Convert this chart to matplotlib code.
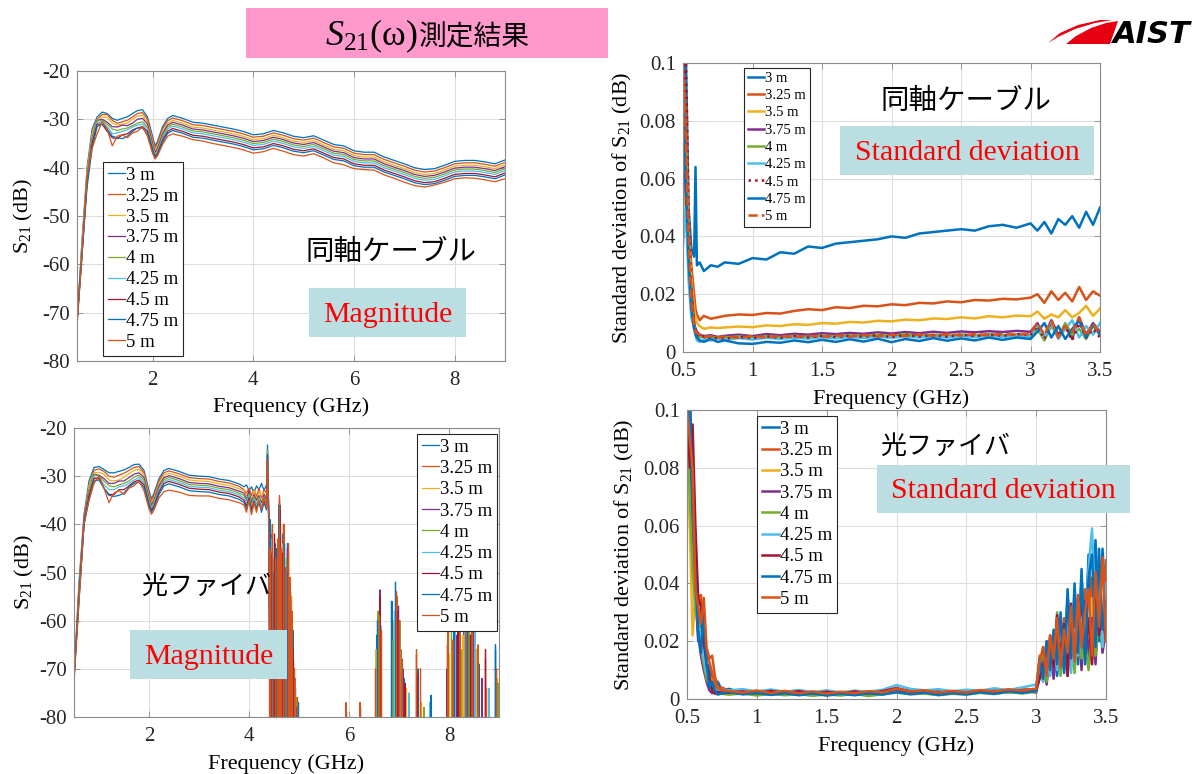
import numpy as np
import matplotlib
matplotlib.use('Agg')
import matplotlib.pyplot as plt
from matplotlib.patches import Rectangle, Polygon

plt.rcParams['font.family'] = ['Liberation Serif', 'Noto Sans CJK JP']
plt.rcParams['mathtext.fontset'] = 'custom'
plt.rcParams['mathtext.rm'] = 'Liberation Serif'
plt.rcParams['mathtext.it'] = 'Liberation Serif:italic'
plt.rcParams['axes.unicode_minus'] = False

W, H = 1198, 774

cable_lengths = ['3 m', '3.25 m', '3.5 m', '3.75 m', '4 m', '4.25 m', '4.5 m', '4.75 m', '5 m']
matlab_colors = ['#0072BD', '#D95319', '#EDB120', '#7E2F8E', '#77AC30',
                 '#4DBEEE', '#A2142F', '#0072BD', '#D95319']

# ---------------- coax cable, magnitude (dB) ----------------
coax_freq = [0.5, 0.6, 0.7, 0.8, 0.9, 1.0, 1.1, 1.2, 1.3, 1.4, 1.5, 1.6, 1.7, 1.8, 1.9,
             2.0, 2.05, 2.1, 2.2, 2.3, 2.4,
             2.6, 2.8, 3.0, 3.2, 3.4, 3.6, 3.8, 4.0, 4.2, 4.4, 4.6, 4.8, 5.0, 5.2, 5.4, 5.6,
             5.8, 6.0, 6.2, 6.4, 6.6, 6.8, 7.0, 7.2, 7.4, 7.6, 7.8, 8.0, 8.2, 8.4, 8.6, 8.8, 9.0]
coax_mag_300 = [-72, -55, -40, -32, -29.5, -28.5, -28.8, -29.8, -30.2, -29.8, -29.5, -28.8, -28.2, -28.0, -29.5,
                -33.5, -35.5, -34.5, -31.5, -29.8, -29.2,
                -29.8, -30.6, -30.8, -31.2, -31.6, -32.0, -32.5, -33.2, -33.0, -32.3, -32.8, -33.5, -33.8, -33.4, -34.3, -35.2,
                -35.5, -36.5, -36.8, -36.8, -37.8, -38.5, -39.2, -40.0, -40.4, -40.2, -39.5, -38.7, -38.5, -38.5, -38.8, -39.2, -38.4]
coax_mag_325 = [-72, -56, -41, -33, -30, -29.0, -29.0, -30.2, -30.8, -30.5, -30.2, -29.5, -28.8, -28.6, -30.0,
                -34.0, -36.0, -35.0, -32.0, -30.3, -29.7,
                -30.3, -31.1, -31.3, -31.7, -32.1, -32.5, -33.0, -33.7, -33.5, -32.8, -33.3, -34.0, -34.3, -33.9, -34.8, -35.7,
                -36.0, -37.0, -37.3, -37.3, -38.3, -39.0, -39.7, -40.5, -40.9, -40.7, -40.0, -39.2, -39.0, -39.0, -39.3, -39.7, -38.9]
coax_mag_350 = [-72, -56, -41, -33, -30, -29.5, -29.6, -30.8, -31.2, -31.0, -30.8, -30.0, -29.3, -29.2, -30.6,
                -34.5, -36.4, -35.5, -32.5, -30.8, -30.2,
                -30.8, -31.6, -31.8, -32.2, -32.6, -33.0, -33.5, -34.2, -34.0, -33.3, -33.8, -34.5, -34.8, -34.4, -35.3, -36.2,
                -36.5, -37.5, -37.8, -37.8, -38.8, -39.5, -40.2, -41.0, -41.4, -41.2, -40.5, -39.7, -39.5, -39.5, -39.8, -40.2, -39.4]
coax_mag_375 = [-72, -57, -42, -34, -30.2, -30.0, -30.6, -31.5, -31.6, -31.2, -31.3, -30.8, -30.0, -29.8, -31.0,
                -35.0, -36.8, -36.0, -33.0, -31.2, -30.6,
                -31.2, -32.0, -32.2, -32.6, -33.0, -33.4, -33.9, -34.6, -34.4, -33.7, -34.2, -34.9, -35.2, -34.8, -35.7, -36.6,
                -36.9, -37.9, -38.2, -38.2, -39.2, -39.9, -40.6, -41.4, -41.8, -41.6, -40.9, -40.1, -39.9, -39.9, -40.2, -40.6, -39.8]
coax_mag_400 = [-72, -57, -42, -34, -30.3, -30.3, -31.0, -32.0, -32.3, -32.0, -31.8, -31.3, -30.8, -30.5, -31.6,
                -35.5, -37.2, -36.4, -33.5, -31.6, -31.0,
                -31.6, -32.4, -32.6, -33.0, -33.4, -33.8, -34.3, -35.0, -34.8, -34.1, -34.6, -35.3, -35.6, -35.2, -36.1, -37.0,
                -37.3, -38.3, -38.6, -38.6, -39.6, -40.3, -41.0, -41.8, -42.2, -42.0, -41.3, -40.5, -40.3, -40.3, -40.6, -41.0, -40.2]
coax_mag_425 = [-72, -57, -43, -35, -30.8, -30.5, -31.5, -33.0, -32.8, -32.5, -32.2, -31.6, -31.2, -31.0, -32.0,
                -35.8, -37.5, -36.8, -33.9, -32.0, -31.4,
                -32.0, -32.8, -33.0, -33.4, -33.8, -34.2, -34.7, -35.4, -35.2, -34.5, -35.0, -35.7, -36.0, -35.6, -36.5, -37.4,
                -37.7, -38.7, -39.0, -39.0, -40.0, -40.7, -41.4, -42.2, -42.6, -42.4, -41.7, -40.9, -40.7, -40.7, -41.0, -41.4, -40.6]
coax_mag_450 = [-72, -58, -43, -35, -31.0, -31.0, -32.5, -33.8, -34.0, -33.2, -33.0, -32.2, -31.8, -31.5, -32.5,
                -36.2, -37.8, -37.0, -34.3, -32.5, -31.9,
                -32.5, -33.3, -33.5, -33.9, -34.3, -34.7, -35.2, -35.9, -35.7, -35.0, -35.5, -36.2, -36.5, -36.1, -37.0, -37.9,
                -38.2, -39.2, -39.5, -39.5, -40.5, -41.2, -41.9, -42.7, -43.1, -42.9, -42.2, -41.4, -41.2, -41.2, -41.5, -41.9, -41.1]
coax_mag_475 = [-72, -58, -44, -36, -31.5, -31.0, -32.0, -33.5, -33.8, -34.0, -33.5, -32.5, -31.8, -31.8, -33.0,
                -36.6, -38.0, -37.3, -34.7, -32.9, -32.3,
                -32.9, -33.7, -33.9, -34.3, -34.7, -35.1, -35.6, -36.3, -36.1, -35.4, -35.9, -36.6, -36.9, -36.5, -37.4, -38.3,
                -38.6, -39.6, -39.9, -39.9, -40.9, -41.6, -42.3, -43.1, -43.5, -43.3, -42.6, -41.8, -41.6, -41.6, -41.9, -42.3, -41.5]
coax_mag_500 = [-73, -58, -42, -36, -33, -30.5, -32, -35.5, -33.5, -33.2, -33.8, -32.8, -32.5, -31.5, -33.5,
                -37, -38.2, -37.5, -35.2, -33.5, -33.0,
                -33.5, -34.2, -34.5, -35.0, -35.4, -35.8, -36.3, -37.0, -36.7, -36.0, -36.6, -37.3, -37.6, -37.1, -38.0, -39.0,
                -39.4, -40.2, -40.4, -40.5, -41.5, -42.2, -43.0, -43.7, -44.0, -43.6, -43.0, -42.3, -42.1, -42.2, -42.5, -42.9, -42.3]

# ---------------- optical fiber, magnitude (dB) ----------------
fiber_freq = [0.5, 0.6, 0.7, 0.8, 0.9, 1.0, 1.1, 1.2, 1.3, 1.4, 1.5, 1.6, 1.7, 1.8, 1.9,
              2.0, 2.05, 2.1, 2.2, 2.3, 2.4,
              2.6, 2.8, 3.0, 3.2, 3.4, 3.6, 3.8,
              3.9, 3.95, 4.0, 4.05, 4.1, 4.15, 4.2, 4.25, 4.3, 4.35, 4.37, 4.4]
fiber_mag_300 = [-72, -52, -38, -31, -28.2, -28.0, -28.6, -29.3, -29.3, -29.0, -28.7, -28.2, -27.6, -27.5, -28.8,
                 -33.0, -34.7, -33.5, -30.5, -28.8, -28.4,
                 -29.0, -29.8, -30.0, -30.1, -30.6, -30.9, -31.6,
                 -32.2, -31.8, -33.0, -32.2, -33.5, -32.0, -32.8, -31.5, -33.0, -31.8, -23.5, -40]
fiber_mag_325 = [-72, -53, -39, -32, -28.8, -28.5, -29.0, -30.0, -30.2, -29.8, -29.4, -28.8, -28.2, -28.0, -29.3,
                 -33.5, -35.2, -34.0, -31.0, -29.3, -28.9,
                 -29.5, -30.3, -30.5, -30.6, -31.1, -31.4, -32.1,
                 -32.8, -33.5, -32.5, -34.0, -32.8, -34.2, -32.5, -34.5, -32.8, -33.5, -24.5, -42]
fiber_mag_350 = [-72, -53, -39, -32, -29.3, -29.2, -29.6, -30.8, -31.0, -30.8, -30.2, -29.5, -28.8, -28.6, -29.8,
                 -34.0, -35.6, -34.5, -31.5, -29.8, -29.4,
                 -30.0, -30.8, -31.0, -31.1, -31.6, -31.9, -32.6,
                 -33.0, -34.0, -33.2, -34.8, -33.0, -35.0, -33.3, -34.0, -33.5, -34.5, -25.0, -44]
fiber_mag_375 = [-72, -54, -39, -33, -29.6, -29.8, -30.5, -31.5, -31.5, -31.0, -31.0, -30.3, -29.6, -29.3, -30.3,
                 -34.5, -36.0, -35.0, -32.0, -30.3, -29.9,
                 -30.5, -31.3, -31.5, -31.6, -32.1, -32.4, -33.1,
                 -33.5, -34.8, -33.0, -35.5, -33.8, -35.0, -34.0, -35.5, -33.8, -35.0, -25.5, -41]
fiber_mag_400 = [-72, -54, -40, -33, -29.7, -30.0, -31.0, -32.0, -32.2, -31.8, -31.5, -31.0, -30.2, -29.8, -30.8,
                 -35.0, -36.4, -35.4, -32.5, -30.7, -30.3,
                 -30.9, -31.7, -31.9, -32.0, -32.5, -32.8, -33.5,
                 -34.0, -35.0, -33.8, -36.0, -34.2, -35.8, -34.5, -35.0, -34.5, -35.8, -24.5, -43]
fiber_mag_425 = [-72, -55, -40, -34, -30.2, -30.2, -31.8, -32.8, -32.8, -32.2, -32.0, -31.5, -30.8, -30.3, -31.3,
                 -35.4, -36.8, -35.8, -32.9, -31.1, -30.7,
                 -31.3, -32.1, -32.3, -32.4, -32.9, -33.2, -33.9,
                 -34.5, -35.5, -34.0, -36.5, -34.8, -36.0, -35.0, -36.2, -34.8, -36.0, -25.0, -40]
fiber_mag_450 = [-72, -55, -40, -34, -30.5, -30.5, -32.5, -33.8, -33.8, -32.8, -32.8, -32.0, -31.2, -30.8, -31.8,
                 -35.8, -37.1, -36.2, -33.3, -31.5, -31.1,
                 -31.7, -32.5, -32.7, -32.8, -33.3, -33.6, -34.3,
                 -35.0, -36.2, -34.5, -37.0, -35.2, -36.8, -35.5, -37.0, -35.0, -36.8, -26.0, -42]
fiber_mag_475 = [-72, -56, -40, -35, -31.0, -30.8, -32.5, -34.0, -34.2, -34.0, -33.5, -32.3, -31.5, -31.2, -32.3,
                 -36.2, -37.5, -36.6, -33.8, -32.0, -31.6,
                 -32.2, -33.0, -33.2, -33.3, -33.8, -34.1, -34.8,
                 -35.5, -36.8, -35.0, -37.5, -35.8, -36.5, -35.2, -37.5, -35.5, -37.0, -25.5, -41]
fiber_mag_500 = [-73, -56, -40, -35, -31.5, -30.0, -32.5, -35.5, -33.5, -33.0, -33.8, -32.5, -32.0, -31.0, -33.0,
                 -36.8, -37.9, -37.0, -34.5, -33.2, -32.9,
                 -33.3, -34.0, -34.1, -34.1, -34.6, -34.9, -35.5,
                 -36.0, -37.5, -35.0, -38.0, -35.5, -37.5, -35.0, -37.0, -34.5, -36.5, -26.5, -45]

# above 4.4 GHz the fiber signal only shows as isolated peaks (GHz, dB)
fiber_peaks_300 = [(4.43, -40), (4.47, -48), (4.52, -44), (4.58, -52), (4.62, -36), (4.67, -42), (4.72, -55),
                   (4.77, -44), (4.82, -52), (4.88, -62), (4.93, -74), (4.99, -77),
                   (5.95, -79), (6.56, -63), (6.86, -56), (6.93, -52), (7.1, -72), (7.38, -70), (7.64, -75.5),
                   (8.1, -57), (8.3, -60), (8.5, -64), (8.93, -65)]
fiber_peaks_325 = [(4.44, -42), (4.49, -55), (4.55, -46), (4.6, -38), (4.65, -50), (4.7, -40), (4.76, -48),
                   (4.81, -56), (4.86, -60), (4.92, -72),
                   (6.22, -77), (6.6, -60), (6.96, -55), (7.04, -66), (7.35, -67), (7.98, -62), (8.2, -60),
                   (8.45, -62), (8.73, -68)]
fiber_peaks_350 = [(4.45, -44), (4.51, -50), (4.57, -48), (4.63, -40), (4.69, -45), (4.74, -52), (4.79, -46),
                   (4.85, -55), (4.9, -70),
                   (6.54, -66), (6.9, -60), (7.15, -74), (7.45, -77), (8.0, -67), (8.28, -63), (8.55, -66), (8.97, -72)]
fiber_peaks_375 = [(4.43, -41), (4.5, -52), (4.56, -47), (4.61, -35), (4.66, -48), (4.71, -50), (4.77, -45),
                   (4.83, -56), (4.89, -68),
                   (6.62, -53.6), (6.99, -57), (7.08, -70), (7.96, -70), (8.14, -63), (8.35, -58), (8.48, -61), (8.66, -72)]
fiber_peaks_400 = [(4.46, -45), (4.52, -49), (4.59, -43), (4.64, -46), (4.7, -51), (4.75, -47), (4.8, -57),
                   (4.86, -61), (4.95, -76),
                   (6.58, -58), (6.88, -64), (7.02, -60), (7.5, -78), (8.05, -62), (8.25, -66), (8.4, -57), (8.98, -73)]
fiber_peaks_425 = [(4.44, -43), (4.5, -47), (4.55, -50), (4.62, -38), (4.68, -44), (4.73, -55), (4.79, -49),
                   (4.84, -58), (4.91, -73),
                   (6.64, -61), (6.91, -58), (7.2, -75), (7.62, -77), (8.12, -60), (8.32, -62), (8.52, -60), (8.8, -74)]
fiber_peaks_450 = [(4.45, -46), (4.51, -42), (4.57, -51), (4.62, -37), (4.67, -46), (4.72, -49), (4.78, -51),
                   (4.83, -54), (4.88, -66),
                   (6.23, -78), (6.62, -55), (6.97, -58), (7.12, -73), (7.37, -71), (7.97, -65), (8.18, -59),
                   (8.43, -63), (8.73, -66)]
fiber_peaks_475 = [(4.42, -39), (4.48, -50), (4.54, -45), (4.6, -36), (4.65, -47), (4.71, -44), (4.76, -50),
                   (4.82, -53), (4.87, -63), (4.96, -78),
                   (5.94, -79), (6.57, -60), (6.85, -56), (6.94, -54), (7.64, -76), (8.1, -58), (8.37, -60),
                   (8.6, -69), (8.93, -66)]
fiber_peaks_500 = [(4.43, -45), (4.47, -40), (4.53, -47), (4.58, -43), (4.61, -34), (4.64, -45), (4.69, -40),
                   (4.74, -49), (4.79, -44), (4.82, -51), (4.86, -58), (4.91, -70), (4.97, -76),
                   (5.94, -77), (6.22, -77), (6.53, -70), (6.61, -59), (6.65, -62), (6.95, -54), (7.01, -60),
                   (7.06, -68), (7.35, -66), (7.43, -70), (7.98, -62), (8.08, -64), (8.22, -58), (8.34, -61),
                   (8.47, -60), (8.58, -65), (8.75, -74), (8.95, -70)]

# ---------------- coax cable, standard deviation (x 1e-3 dB) ----------------
coax_sd_freq = [0.5, 0.52, 0.54, 0.56, 0.58, 0.59, 0.6, 0.62, 0.65, 0.7, 0.75,
                0.8, 0.9, 1.0, 1.1, 1.2, 1.3, 1.4, 1.5, 1.6, 1.7, 1.8, 1.9, 2.0, 2.1, 2.2, 2.3, 2.4, 2.5,
                2.6, 2.7, 2.8, 2.9, 3.0,
                3.05, 3.1, 3.15, 3.2, 3.25, 3.3, 3.35, 3.4, 3.45, 3.5]
coax_sd_300 = [95, 105, 50, 36, 33, 64, 30, 31, 28, 30, 29.5,
               31, 30.5, 32.5, 32, 34.5, 34, 36.5, 36, 37.5, 38, 38.5, 39, 40, 39.5, 41, 41.5, 42, 42.5, 42, 43.5, 44, 43, 44.5,
               42, 45, 41, 46, 44, 47, 43, 48.5, 44, 50]
coax_sd_325 = [100, 85, 45, 30, 20, 15, 13, 11, 12.5, 11.5, 12,
               12.5, 13, 12.8, 13.5, 13.3, 14.2, 14.8, 14.5, 15.5, 15.2, 16, 15.8, 16.5, 16.2, 17, 16.8, 17.5, 17.2, 18, 17.8, 18.4, 18.2, 18.8,
               20, 17, 21, 18, 20.5, 17.5, 22.5, 18, 21, 19.5]
coax_sd_350 = [45, 70, 40, 25, 15, 12, 10, 9, 8, 8.5, 8.3,
               8.5, 8.8, 8.6, 9.2, 9.0, 9.6, 9.4, 10, 9.8, 10.4, 10.2, 10.8, 10.6, 11.2, 11.0, 11.6, 11.4, 12, 11.6, 12.4, 12.0, 12.6, 12.4,
               14, 11.5, 13, 12, 14.5, 12, 13.5, 16, 12.5, 15]
coax_sd_375 = [80, 55, 30, 22, 10, 8, 7, 6, 5.5, 5.8, 5.2,
               5.6, 6.0, 5.5, 6.2, 5.8, 6.3, 6.0, 6.5, 6.2, 6.6, 6.3, 6.8, 6.4, 6.9, 6.5, 7.0, 6.6, 7.1, 6.8, 7.2, 6.9, 7.3, 7.0,
               10, 5, 11, 6, 9, 4.5, 12, 6, 10, 7]
coax_sd_400 = [75, 65, 35, 18, 9, 7, 6, 5, 5.5, 4.8, 5.2,
               5.0, 5.4, 4.9, 5.5, 5.1, 5.6, 5.2, 5.7, 5.3, 5.8, 5.4, 6.0, 5.5, 6.2, 5.6, 6.0, 5.5, 6.1, 5.6, 6.2, 5.7, 6.1, 5.8,
               8, 4, 9, 5, 10, 6, 8, 4.5, 9, 6]
coax_sd_425 = [37, 50, 25, 12, 8, 6, 4, 3.5, 4.5, 4.0, 4.6,
               4.2, 4.8, 4.3, 4.9, 4.5, 5.0, 4.6, 5.1, 4.7, 5.2, 4.8, 5.3, 4.9, 5.4, 5.0, 5.5, 5.0, 5.6, 5.1, 5.7, 5.2, 5.6, 5.3,
               9, 5, 10, 4.5, 8, 11, 5, 9, 6, 10]
coax_sd_450 = [85, 105, 50, 20, 10, 8, 6, 5, 5.5, 4.5, 5.0,
               4.6, 5.2, 4.8, 5.4, 4.9, 5.5, 5.0, 5.6, 5.2, 5.7, 5.3, 5.8, 5.2, 5.9, 5.4, 5.8, 5.3, 6.0, 5.5, 6.0, 5.6, 6.2, 5.8,
               9, 4.5, 11, 5.5, 9, 4, 10, 5, 8, 5]
coax_sd_475 = [90, 60, 32, 15, 8, 6, 5, 4, 3.5, 4.5, 3.5,
               4.0, 3.0, 2.8, 3.5, 3.2, 4.0, 3.4, 4.2, 3.5, 4.4, 3.6, 4.6, 3.4, 4.5, 3.8, 4.8, 3.9, 4.7, 4.0, 5.0, 4.2, 5.0, 4.5,
               7, 10, 5, 9, 4.5, 8, 11, 5, 9.5, 6]
coax_sd_500 = [95, 75, 40, 18, 9, 7, 6.5, 6, 5, 5.5, 5.0,
               5.4, 4.9, 5.5, 5.0, 5.6, 5.1, 5.7, 5.2, 5.8, 5.3, 5.9, 5.4, 6.0, 5.5, 6.1, 5.6, 6.2, 5.7, 6.2, 5.8, 6.3, 5.9, 6.4,
               10, 6, 11, 5, 9, 7, 12, 5.5, 10, 6]

# ---------------- optical fiber, standard deviation (x 1e-3 dB) ----------------
fiber_sd_freq = [0.5, 0.52, 0.54, 0.56, 0.58, 0.6, 0.62, 0.64, 0.66, 0.68, 0.7, 0.72, 0.75,
                 0.8, 0.9, 1.0, 1.1, 1.2, 1.3, 1.4, 1.5, 1.6, 1.7, 1.8, 1.9, 2.0, 2.1, 2.2, 2.3, 2.4, 2.5,
                 2.6, 2.7, 2.8, 2.9, 3.0,
                 3.025, 3.05, 3.075, 3.1, 3.125, 3.15, 3.175, 3.2, 3.225, 3.25,
                 3.275, 3.3, 3.325, 3.35, 3.375, 3.4, 3.425, 3.45, 3.475, 3.5]
fiber_sd_300 = [110, 100, 85, 40, 20, 30, 18, 8, 12, 5, 4, 6, 3,
                3.5, 2.2, 2.8, 2.0, 2.6, 1.8, 2.5, 1.6, 2.3, 1.7, 2.5, 2.0, 3.5, 2.2, 2.9, 1.8, 2.6, 2.0, 3.0, 2.4, 3.2, 2.8, 3.5,
                12, 6, 18, 9, 22, 8, 26, 10, 38, 15, 30, 12, 42, 18, 50, 25, 55, 20, 52, 32]
fiber_sd_325 = [105, 95, 70, 38, 35, 36, 22, 15, 13, 9, 5, 3.5, 4,
                2.8, 3.2, 2.3, 3.0, 2.2, 2.9, 2.1, 2.7, 2.0, 2.6, 2.1, 2.8, 3.0, 3.4, 2.5, 3.0, 2.3, 2.9, 2.4, 3.3, 2.7, 3.6, 3.0,
                15, 8, 20, 10, 16, 25, 12, 28, 14, 30, 18, 35, 20, 38, 15, 42, 22, 40, 25, 48]
fiber_sd_350 = [80, 60, 22, 35, 25, 20, 15, 10, 8, 6, 3, 2.5, 2.2,
                2.0, 1.8, 2.2, 1.5, 2.0, 1.4, 1.9, 1.3, 1.8, 1.4, 2.0, 1.6, 2.8, 1.8, 2.3, 1.5, 2.1, 1.7, 2.5, 2.0, 2.6, 2.2, 3.0,
                10, 15, 7, 18, 9, 20, 12, 25, 10, 22, 14, 28, 12, 30, 16, 35, 18, 30, 22, 21]
fiber_sd_375 = [100, 90, 60, 35, 22, 15, 10, 6, 3, 2, 2.5, 2, 2.5,
                2.0, 2.4, 1.8, 2.3, 1.6, 2.2, 1.5, 2.1, 1.7, 2.3, 1.8, 2.4, 2.6, 2.8, 2.0, 2.6, 1.9, 2.5, 2.2, 2.9, 2.3, 3.0, 2.2,
                8, 14, 5, 16, 7, 20, 10, 24, 8, 26, 12, 30, 10, 34, 14, 28, 12, 32, 16, 24]
fiber_sd_400 = [95, 70, 45, 30, 28, 18, 12, 7, 5, 3, 2, 2.2, 1.8,
                1.5, 1.9, 1.2, 1.8, 1.3, 1.7, 1.1, 1.6, 1.2, 1.8, 1.0, 1.7, 2.2, 1.6, 1.9, 1.3, 1.8, 1.5, 2.1, 1.7, 2.4, 1.9, 2.6,
                9, 18, 6, 20, 12, 30, 8, 22, 10, 28, 9, 25, 14, 20, 10, 24, 15, 28, 18, 26]
fiber_sd_425 = [110, 105, 75, 40, 26, 20, 14, 9, 6, 4, 3, 2.8, 3.2,
                3.0, 3.4, 2.6, 3.3, 2.5, 3.1, 2.4, 3.0, 2.3, 2.9, 2.5, 3.2, 4.8, 3.5, 3.0, 3.4, 2.7, 3.2, 2.9, 3.7, 3.1, 4.0, 5.0,
                11, 6, 14, 8, 18, 10, 22, 12, 26, 9, 24, 15, 35, 20, 45, 59, 28, 40, 18, 40]
fiber_sd_450 = [100, 80, 95, 60, 35, 32, 20, 12, 8, 3, 1.8, 2.5, 2.0,
                2.2, 2.6, 2.0, 2.8, 2.1, 2.7, 2.0, 2.5, 1.9, 2.6, 2.0, 2.7, 3.8, 2.5, 2.8, 2.2, 2.6, 2.1, 2.8, 2.4, 3.1, 2.6, 3.2,
                7, 12, 9, 22, 11, 29, 14, 26, 8, 33, 15, 20, 36, 16, 28, 12, 38, 22, 30, 20]
fiber_sd_475 = [105, 110, 65, 42, 24, 16, 30, 12, 4, 6, 3, 1.5, 2.0,
                2.4, 1.6, 2.1, 1.4, 2.0, 1.3, 1.9, 1.2, 1.8, 1.3, 2.0, 1.5, 2.4, 1.7, 2.2, 1.4, 2.0, 1.6, 2.3, 1.8, 2.6, 2.1, 2.8,
                14, 7, 20, 10, 24, 12, 30, 9, 36, 14, 40, 16, 45, 12, 42, 50, 18, 52, 24, 34]
fiber_sd_500 = [100, 90, 80, 38, 32, 26, 35, 18, 14, 15, 8, 4, 3.0,
                2.8, 2.2, 2.9, 2.1, 2.8, 2.0, 2.6, 1.9, 2.5, 2.0, 2.7, 2.3, 3.6, 2.6, 3.0, 2.2, 2.8, 2.3, 3.1, 2.6, 3.3, 2.9, 3.6,
                13, 18, 8, 22, 14, 28, 11, 24, 16, 32, 13, 36, 18, 30, 38, 15, 44, 25, 49, 20]

coax_mag = [coax_mag_300, coax_mag_325, coax_mag_350, coax_mag_375, coax_mag_400,
            coax_mag_425, coax_mag_450, coax_mag_475, coax_mag_500]
fiber_mag = [fiber_mag_300, fiber_mag_325, fiber_mag_350, fiber_mag_375, fiber_mag_400,
             fiber_mag_425, fiber_mag_450, fiber_mag_475, fiber_mag_500]
fiber_peaks = [fiber_peaks_300, fiber_peaks_325, fiber_peaks_350, fiber_peaks_375, fiber_peaks_400,
               fiber_peaks_425, fiber_peaks_450, fiber_peaks_475, fiber_peaks_500]
coax_sd = [coax_sd_300, coax_sd_325, coax_sd_350, coax_sd_375, coax_sd_400,
           coax_sd_425, coax_sd_450, coax_sd_475, coax_sd_500]
fiber_sd = [fiber_sd_300, fiber_sd_325, fiber_sd_350, fiber_sd_375, fiber_sd_400,
            fiber_sd_425, fiber_sd_450, fiber_sd_475, fiber_sd_500]
coax_sd_styles = ['-', '-', '-', '-', '-', '-', ':', '-', '--']

fig = plt.figure(figsize=(W / 100, H / 100), dpi=100)


def fpos(x, y):
    # pixel position (from top-left) -> figure fraction
    return x / W, 1 - y / H


def add_axes_px(x0, y0, x1, y1):
    return fig.add_axes([x0 / W, 1 - y1 / H, (x1 - x0) / W, (y1 - y0) / H])


def style_axes(ax, xlim, ylim, xticks, yticks, xlabels, ylabels):
    ax.set_xlim(*xlim)
    ax.set_ylim(*ylim)
    ax.set_xticks(xticks)
    ax.set_xticklabels(xlabels)
    ax.set_yticks(yticks)
    ax.set_yticklabels(ylabels)
    ax.grid(True, color='#dedede', linewidth=0.8)
    ax.set_axisbelow(True)
    for s in ax.spines.values():
        s.set_color('#8a8a8a')
        s.set_linewidth(0.8)
    ax.tick_params(direction='in', length=4, width=0.6, color='#8a8a8a', labelcolor='#262626',
                   labelsize=15, top=True, right=True)
    ax.tick_params(axis='x', pad=7)
    ax.tick_params(axis='y', pad=5)


def add_legend(ax, x, y, size, spacing, hl=0.9):
    leg = ax.legend(loc='upper left', bbox_to_anchor=fpos(x, y), bbox_transform=fig.transFigure,
                    borderaxespad=0, fontsize=size, fancybox=False, framealpha=1,
                    edgecolor='#262626', handlelength=hl, handletextpad=0.1,
                    labelspacing=spacing, borderpad=0.25)
    leg.get_frame().set_linewidth(0.8)
    return leg


def peak_trace(freq, vals, peaks, floor=-100, hw=0.004):
    xs, ys = list(freq), list(vals)
    for f, v in peaks:
        xs += [f - hw, f, f + hw]
        ys += [floor, v, floor]
    return xs, ys


def label_box(x0, y0, x1, y1, text):
    fig.add_artist(Rectangle(fpos(x0, y1), (x1 - x0) / W, (y1 - y0) / H, transform=fig.transFigure,
                             facecolor='#bbdee2', edgecolor='none', zorder=5))
    fig.text((x0 + x1) / 2 / W, 1 - ((y0 + y1) / 2 + 2) / H, text, color='red', fontsize=21.5,
             ha='center', va='center', zorder=6)


mag_yticks = [-80, -70, -60, -50, -40, -30, -20]
mag_xticks = [2, 4, 6, 8]
sd_xticks = [0.5, 1, 1.5, 2, 2.5, 3, 3.5]
sd_yticks = [0, 0.02, 0.04, 0.06, 0.08, 0.1]
sd_xlabels = ['0.5', '1', '1.5', '2', '2.5', '3', '3.5']
sd_ylabels = ['0', '0.02', '0.04', '0.06', '0.08', '0.1']
mag_ylabel = r'$\mathrm{S_{21}\ (dB)}$'
sd_ylabel = r'$\mathrm{Standard\ deviation\ of\ S_{21}\ (dB)}$'

# top-left: coax magnitude
ax1 = add_axes_px(77, 71, 505, 361)
for vals, lab, c in zip(coax_mag, cable_lengths, matlab_colors):
    ax1.plot(coax_freq, vals, color=c, lw=0.9, label=lab)
style_axes(ax1, (0.5, 9), (-80, -20), mag_xticks, mag_yticks,
           [str(t) for t in mag_xticks], [str(t) for t in mag_yticks])
ax1.set_xlabel('Frequency (GHz)', fontsize=16)
ax1.set_ylabel(mag_ylabel, fontsize=16)
ax1.xaxis.set_label_coords(0.5, -0.125)
ax1.yaxis.set_label_coords(-0.097, 0.5)
add_legend(ax1, 103, 162, 13.5, 0.2)

# top-right: coax standard deviation
ax2 = add_axes_px(683, 63, 1100, 352)
for vals, lab, c, ls in zip(coax_sd, cable_lengths, matlab_colors, coax_sd_styles):
    ax2.plot(coax_sd_freq, np.array(vals) / 1000, color=c, lw=1.8, ls=ls, label=lab)
style_axes(ax2, (0.5, 3.5), (0, 0.1), sd_xticks, sd_yticks, sd_xlabels, sd_ylabels)
ax2.set_xlabel('Frequency (GHz)', fontsize=16)
ax2.set_ylabel(sd_ylabel, fontsize=16)
ax2.xaxis.set_label_coords(0.5, -0.128)
ax2.yaxis.set_label_coords(-0.118, 0.5)
add_legend(ax2, 744, 68, 10.5, 0.28, hl=1.1)

# bottom-left: fiber magnitude
ax3 = add_axes_px(74, 428, 499, 717)
for vals, peaks, lab, c in zip(fiber_mag, fiber_peaks, cable_lengths, matlab_colors):
    xs, ys = peak_trace(fiber_freq, vals, peaks)
    ax3.plot(xs, ys, color=c, lw=0.9, label=lab)
style_axes(ax3, (0.5, 9), (-80, -20), mag_xticks, mag_yticks,
           [str(t) for t in mag_xticks], [str(t) for t in mag_yticks])
ax3.set_xlabel('Frequency (GHz)', fontsize=16)
ax3.set_ylabel(mag_ylabel, fontsize=16)
ax3.xaxis.set_label_coords(0.5, -0.13)
ax3.yaxis.set_label_coords(-0.09, 0.5)
add_legend(ax3, 417, 434, 13.5, 0.22)

# bottom-right: fiber standard deviation
ax4 = add_axes_px(687, 410, 1106, 699)
for vals, lab, c in zip(fiber_sd, cable_lengths, matlab_colors):
    ax4.plot(fiber_sd_freq, np.array(vals) / 1000, color=c, lw=1.8, label=lab)
style_axes(ax4, (0.5, 3.5), (0, 0.1), sd_xticks, sd_yticks, sd_xlabels, sd_ylabels)
ax4.set_xlabel('Frequency (GHz)', fontsize=16)
ax4.set_ylabel(sd_ylabel, fontsize=16)
ax4.xaxis.set_label_coords(0.5, -0.13)
ax4.yaxis.set_label_coords(-0.122, 0.5)
add_legend(ax4, 757, 416, 13.5, 0.22)

# annotations
jp = dict(family='Noto Sans CJK JP', color='black', ha='center', va='center', zorder=6)
fig.text(*fpos(391, 252), '同軸ケーブル', fontsize=20.5, **jp)
fig.text(*fpos(966, 101), '同軸ケーブル', fontsize=20.5, **jp)
fig.text(*fpos(206, 586), '光ファイバ', fontsize=18.7, **jp)
fig.text(*fpos(945, 446), '光ファイバ', fontsize=18.7, **jp)
label_box(309, 288, 466, 337, 'Magnitude')
label_box(130, 630, 287, 679, 'Magnitude')
label_box(840, 126, 1094, 175, 'Standard deviation')
label_box(877, 465, 1130, 513, 'Standard deviation')

# title banner
fig.add_artist(Rectangle(fpos(246, 58), 362 / W, 50 / H, transform=fig.transFigure,
                         facecolor='#ff99cc', edgecolor='none', zorder=1))
renderer = fig.canvas.get_renderer()
t1 = fig.text(0, 0, r'$S_{21}\mathrm{(ω)}$', fontsize=26, ha='left', va='baseline', zorder=3)
t2 = fig.text(0, 0, '測定結果', family='Noto Sans CJK JP', fontsize=20, ha='left', va='baseline', zorder=3)
w1 = t1.get_window_extent(renderer).width
w2 = t2.get_window_extent(renderer).width
x0 = 427 - (w1 + w2) / 2
t1.set_position(fpos(x0, 45))
t2.set_position(fpos(x0 + w1 + 1, 45))

# AIST logo
swoosh_thin = [(1048, 43), (1060, 33), (1078, 25), (1100, 20), (1112, 20), (1095, 23), (1075, 29), (1058, 37)]
swoosh_thick = [(1066, 44), (1076, 36), (1091, 28), (1106, 23), (1118, 21), (1110, 44)]
for shape in (swoosh_thin, swoosh_thick):
    fig.add_artist(Polygon([fpos(x, y) for x, y in shape], closed=True, transform=fig.transFigure,
                           facecolor='#e60012', edgecolor='none'))
fig.text(*fpos(1113, 43), 'AIST', family='DejaVu Sans', fontweight='bold', fontstyle='oblique',
         fontsize=22, color='black', ha='left', va='baseline')

fig.savefig('out.png', dpi=100)
